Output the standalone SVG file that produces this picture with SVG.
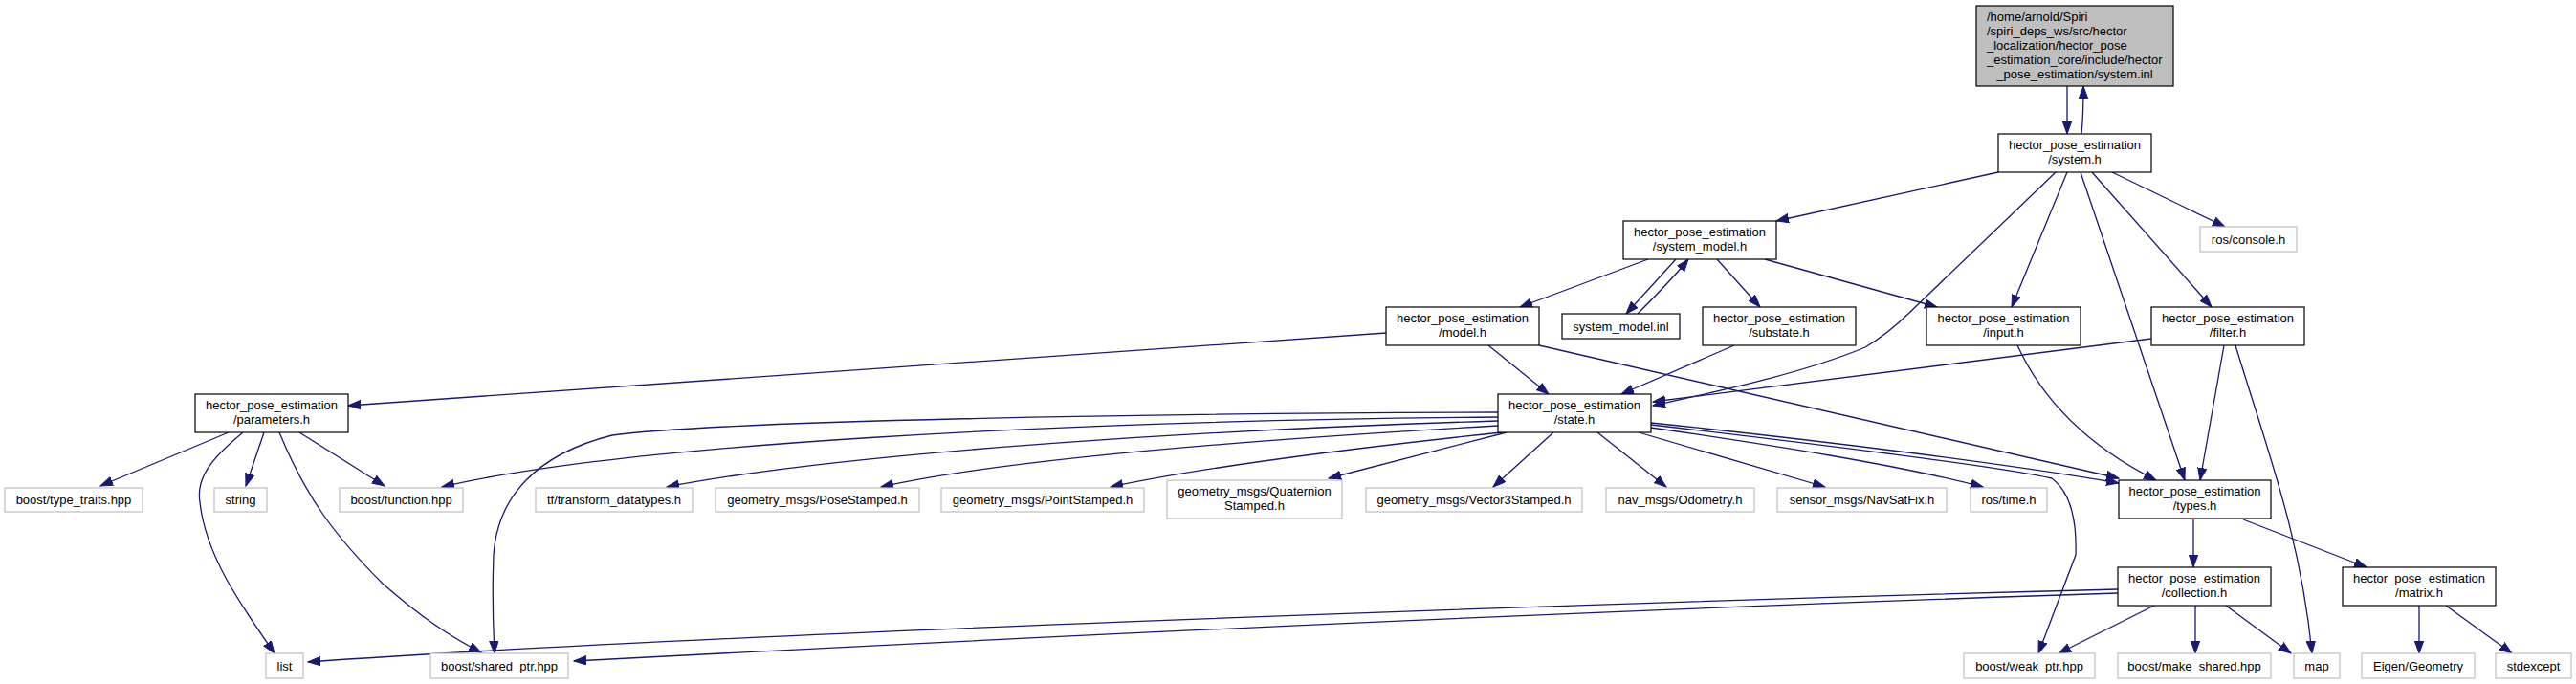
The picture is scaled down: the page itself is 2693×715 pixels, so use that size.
<svg xmlns="http://www.w3.org/2000/svg" width="2693" height="715" viewBox="0 0 2693 715">
<style>
text{font-family:"Liberation Sans",Arial,Helvetica,sans-serif;font-size:13px;fill:#000;text-anchor:middle}
.n rect{fill:#fff;stroke:#000;stroke-width:1.2}
.x rect{fill:#fff;stroke:#bfbfbf;stroke-width:1.2}
.root rect{fill:#bfbfbf;stroke:#000;stroke-width:1.2}
.e path{fill:none;stroke:#191970;stroke-width:1.3;marker-end:url(#ah)}
.l{text-anchor:start}
</style>
<defs>
<marker id="ah" markerUnits="userSpaceOnUse" markerWidth="16" markerHeight="12" refX="13" refY="5" orient="auto">
<path d="M0,0.3 L13,5 L0,9.7 z" fill="#191970" stroke="#191970" stroke-width="1"/>
</marker>
</defs>
<rect width="2693" height="715" fill="#fff"/>
<g class="e" id="edges">
<path d="M2161,90 L2161,140"/>
<path d="M2176,140 C2178,122 2178,106 2178,90"/>
<path d="M2089,180 L1857,231"/>
<path d="M2149,180 L1995,328 Q1972,350 1950,363 C1880,392 1790,410 1728,424"/>
<path d="M2161,180 L2103,321"/>
<path d="M2175,180 L2284,502"/>
<path d="M2187,180 L2312,321"/>
<path d="M2208,180 L2326,237"/>
<path d="M1723,271 L1589,321"/>
<path d="M1752,271 L1700,328"/>
<path d="M1712,328 C1730,310 1750,290 1765,271"/>
<path d="M1795,271 L1840,321"/>
<path d="M1845,271 L2025,321"/>
<path d="M1449,348 L364,424"/>
<path d="M1556,361 L1619,412"/>
<path d="M1609,361 L2215,500"/>
<path d="M1813,361 L1695,412"/>
<path d="M2109,361 Q2150,450 2254,502"/>
<path d="M2249,354 L1728,420"/>
<path d="M2325,361 L2300,502"/>
<path d="M2337,361 C2370,470 2405,560 2417,683"/>
<path d="M1566,436 C1100,440 650,465 462,509"/>
<path d="M1566,431 C1200,432 750,440 640,455 C560,475 520,520 516,580 C514,630 516,660 517,683"/>
<path d="M1566,440 C1300,448 900,470 697,509"/>
<path d="M1566,445 C1300,460 1050,480 921,509"/>
<path d="M1570,452 C1400,470 1250,490 1161,509"/>
<path d="M1575,452 L1389,500"/>
<path d="M1624,452 L1561,509"/>
<path d="M1670,452 L1742,509"/>
<path d="M1713,452 L1908,509"/>
<path d="M1726,447 C1850,465 1980,485 2073,509"/>
<path d="M1726,442 C1900,460 2100,485 2215,505"/>
<path d="M1726,444 C1950,470 2100,490 2145,500 Q2172,520 2170,580 L2131,683"/>
<path d="M239,452 L105,508"/>
<path d="M254,452 C220,480 205,500 209,525 C215,580 250,630 287,683"/>
<path d="M276,452 L257,508"/>
<path d="M292,452 C320,520 350,560 400,610 C440,645 470,665 503,682"/>
<path d="M313,452 L402,508"/>
<path d="M2293,543 L2293,593"/>
<path d="M2345,543 L2474,593"/>
<path d="M2214,616 C1600,632 700,665 322,692"/>
<path d="M2214,620 C1600,640 1000,670 600,691"/>
<path d="M2252,633 L2152,683"/>
<path d="M2295,633 L2295,683"/>
<path d="M2327,633 L2395,683"/>
<path d="M2529,633 L2529,683"/>
<path d="M2557,633 L2626,683"/>
</g>
<g id="root" class="root"><rect x="2066" y="6" width="206" height="84"/>
<text class="l" x="2077" y="21.5">/home/arnold/Spiri</text>
<text class="l" x="2077" y="36.5">/spiri_deps_ws/src/hector</text>
<text class="l" x="2077" y="51.5">_localization/hector_pose</text>
<text class="l" x="2077" y="66.5">_estimation_core/include/hector</text>
<text x="2169" y="81.5">_pose_estimation/system.inl</text></g>
<g id="system_h" class="n"><rect x="2089" y="140" width="160" height="40"/><text x="2169" y="156">hector_pose_estimation</text><text x="2169" y="171">/system.h</text></g>
<g id="system_model_h" class="n"><rect x="1697" y="231" width="160" height="40"/><text x="1777" y="247">hector_pose_estimation</text><text x="1777" y="262">/system_model.h</text></g>
<g id="ros_console" class="x"><rect x="2300" y="237" width="101" height="26"/><text x="2350.5" y="254.5">ros/console.h</text></g>
<g id="model_h" class="n"><rect x="1449" y="321" width="160" height="40"/><text x="1529" y="337">hector_pose_estimation</text><text x="1529" y="352">/model.h</text></g>
<g id="system_model_inl" class="n"><rect x="1633" y="328" width="123" height="26"/><text x="1694.5" y="345.5">system_model.inl</text></g>
<g id="substate_h" class="n"><rect x="1780" y="321" width="160" height="40"/><text x="1860" y="337">hector_pose_estimation</text><text x="1860" y="352">/substate.h</text></g>
<g id="input_h" class="n"><rect x="2014" y="321" width="161" height="40"/><text x="2094.5" y="337">hector_pose_estimation</text><text x="2094.5" y="352">/input.h</text></g>
<g id="filter_h" class="n"><rect x="2249" y="321" width="160" height="40"/><text x="2329" y="337">hector_pose_estimation</text><text x="2329" y="352">/filter.h</text></g>
<g id="parameters_h" class="n"><rect x="204" y="412" width="160" height="40"/><text x="284" y="428">hector_pose_estimation</text><text x="284" y="443">/parameters.h</text></g>
<g id="state_h" class="n"><rect x="1566" y="412" width="160" height="40"/><text x="1646" y="428">hector_pose_estimation</text><text x="1646" y="443">/state.h</text></g>
<g id="type_traits" class="x"><rect x="5" y="510" width="144" height="25"/><text x="77" y="527">boost/type_traits.hpp</text></g>
<g id="string" class="x"><rect x="224" y="510" width="55" height="25"/><text x="251.5" y="527">string</text></g>
<g id="boost_function" class="x"><rect x="355" y="510" width="129" height="25"/><text x="419.5" y="527">boost/function.hpp</text></g>
<g id="tf" class="x"><rect x="560" y="510" width="164" height="25"/><text x="642" y="527">tf/transform_datatypes.h</text></g>
<g id="pose_stamped" class="x"><rect x="748" y="510" width="213" height="25"/><text x="854.5" y="527">geometry_msgs/PoseStamped.h</text></g>
<g id="point_stamped" class="x"><rect x="984" y="510" width="212" height="25"/><text x="1090" y="527">geometry_msgs/PointStamped.h</text></g>
<g id="quaternion_stamped" class="x"><rect x="1220" y="502" width="183" height="40"/><text x="1311.5" y="518">geometry_msgs/Quaternion</text><text x="1311.5" y="533">Stamped.h</text></g>
<g id="vector3_stamped" class="x"><rect x="1428" y="510" width="226" height="25"/><text x="1541" y="527">geometry_msgs/Vector3Stamped.h</text></g>
<g id="odometry" class="x"><rect x="1679" y="510" width="155" height="25"/><text x="1756.5" y="527">nav_msgs/Odometry.h</text></g>
<g id="navsatfix" class="x"><rect x="1858" y="510" width="177" height="25"/><text x="1946.5" y="527">sensor_msgs/NavSatFix.h</text></g>
<g id="ros_time" class="x"><rect x="2060" y="510" width="80" height="25"/><text x="2100" y="527">ros/time.h</text></g>
<g id="types_h" class="n"><rect x="2215" y="502" width="159" height="40"/><text x="2294.5" y="518">hector_pose_estimation</text><text x="2294.5" y="533">/types.h</text></g>
<g id="collection_h" class="n"><rect x="2214" y="593" width="160" height="40"/><text x="2294" y="609">hector_pose_estimation</text><text x="2294" y="624">/collection.h</text></g>
<g id="matrix_h" class="n"><rect x="2449" y="593" width="160" height="40"/><text x="2529" y="609">hector_pose_estimation</text><text x="2529" y="624">/matrix.h</text></g>
<g id="list" class="x"><rect x="278" y="683" width="39" height="26"/><text x="297.5" y="700.5">list</text></g>
<g id="shared_ptr" class="x"><rect x="450" y="683" width="144" height="26"/><text x="522" y="700.5">boost/shared_ptr.hpp</text></g>
<g id="weak_ptr" class="x"><rect x="2053" y="683" width="137" height="26"/><text x="2121.5" y="700.5">boost/weak_ptr.hpp</text></g>
<g id="make_shared" class="x"><rect x="2214" y="683" width="160" height="26"/><text x="2294" y="700.5">boost/make_shared.hpp</text></g>
<g id="map" class="x"><rect x="2398" y="683" width="48" height="26"/><text x="2422" y="700.5">map</text></g>
<g id="eigen_geometry" class="x"><rect x="2469" y="683" width="118" height="26"/><text x="2528" y="700.5">Eigen/Geometry</text></g>
<g id="stdexcept" class="x"><rect x="2609" y="683" width="79" height="26"/><text x="2648.5" y="700.5">stdexcept</text></g>
</svg>
